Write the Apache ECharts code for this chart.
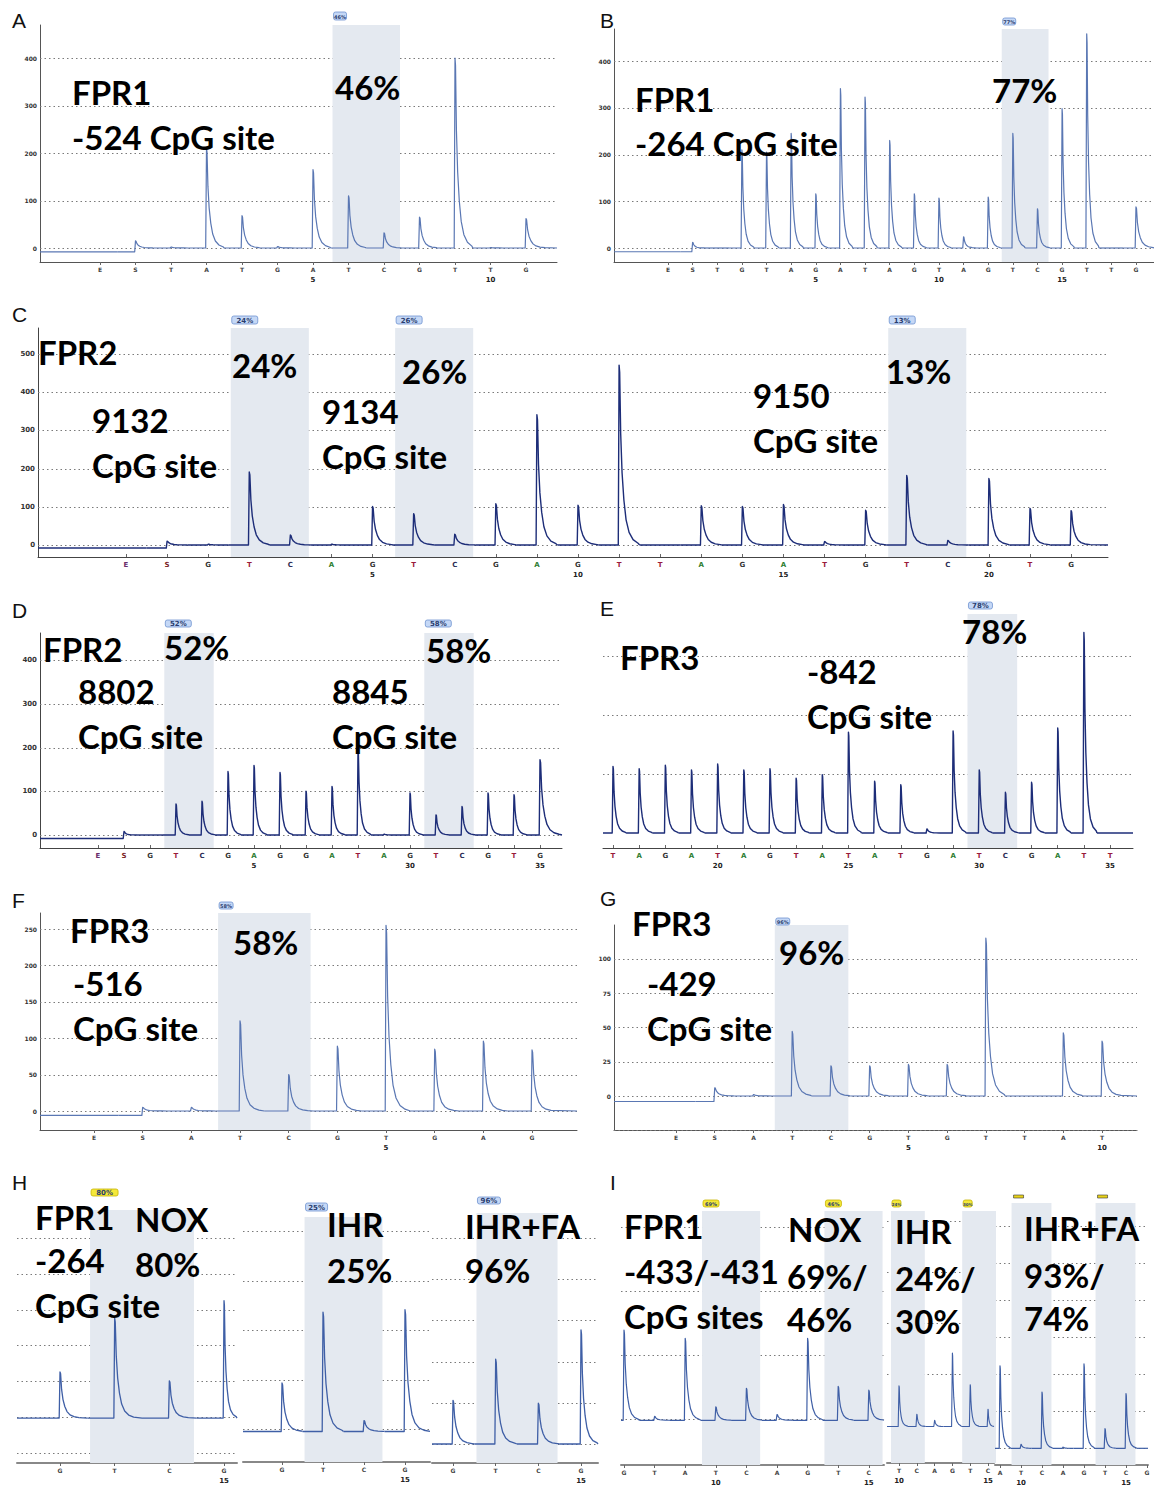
<!DOCTYPE html>
<html><head><meta charset="utf-8">
<script src="https://cdn.jsdelivr.net/npm/echarts@6/dist/echarts.min.js"></script>
<style>html,body{margin:0;padding:0;background:#fff}#c{width:1154px;height:1486px}</style>
</head><body><div id="c"></div>
<script>
// ---------------- DATA ----------------
// dispensation orders
const seqA  = ['E','S','T','A','T','G','A','T','C','G','T','T','G'];
const seqB  = ['E','S','T','G','T','A','G','A','T','A','G','T','A','G','T','C','G','T','T','G'];
const seqC  = ['E','S','G','T','C','A','G','T','C','G','A','G','T','T','A','G','A','T','G','T','C','G','T','G'];
const seqD  = ['E','S','G','T','C','G','A','G','G','A','T','A','G','T','C','G','T','G'];
const seqE  = ['T','A','G','A','T','A','G','T','A','T','A','T','G','A','T','C','G','A','T','T'];
const seqF  = ['E','S','A','T','C','G','T','G','A','G'];
const seqG  = ['E','S','A','T','C','G','T','G','T','T','A','T'];
const seqH1 = ['G','T','C','G'];
const seqH2 = ['G','T','C','G'];
const seqH3 = ['G','T','C','G'];
const seqI1 = ['G','T','A','T','C','A','G','T','C'];
const seqI2 = ['T','C','A','G','T','C'];
const seqI3 = ['A','T','C','A','G','T','C','G'];

// dispensation numbers shown under the letters
const numD = [null,null,1,2,3,4,5,6,26,27,28,29,30,31,32,33,34,35];

// peak heights (signal units); null = no peak
const peaksA  = [null, 15, 2, 210, 68, 3, 165, 110, 32, 65, 400, 1, 62];
const peaksB  = [null, 12, 0, 210, 205, 245, 116, 341, 323, 230, 116, 107, 24, 109, 245, 84, 298, 458, 0, 88];
const peaksC  = [null, 10, 2, 191, 26, 2, 101, 82, 28, 108, 341, 104, 471, 0, 103, 101, 106, 9, 91, 182, 12, 174, 96, 90];
const peaksD  = [null, 8, 0, 71, 77, 145, 159, 143, 100, 111, 195, 2, 96, 46, 65, 96, 92, 172];
const peaksE  = [113, 109, 115, 107, 117, 107, 109, 93, 99, 171, 88, 82, 7, 173, 107, 69, 86, 178, 340, 0];
const peaksF  = [null, 5, 5, 124, 50, 89, 255, 85, 96, 84];
const peaksG  = [null, 6, 1, 47, 22, 22, 23, 23, 115, 0, 46, 40];
const peaksH1 = [126, 276, 101, 325];
const peaksH2 = [93, 236, 17, 241];
const peaksH3 = [106, 206, 99, 277];
const peaksI1 = [139, 4, 126, 19, 48, 7, 126, 51, 45];
const peaksI2 = [77, 21, 9, 141, 79, 31];
const peaksI3 = [223, 11, 152, 3, 228, 53, 148, 0];

// trace level before the substrate injection
const preA = -8, preB = -8, preC = -8, preD = -8, preF = -6, preG = -4;

// shaded CpG dispensations (index ranges) and the software's % badges
const shadesA = [[7,8]],  pctA = ['46%'];
const shadesB = [[14,15]], pctB = ['77%'];
const shadesC = [[3,4],[7,8],[19,20]], pctC = ['24%','26%','13%'];
const shadesD = [[3,4],[13,14]], pctD = ['52%','58%'];
const shadesE = [[14,15]], pctE = ['78%'];
const shadesF = [[3,4]], pctF = ['58%'];
const shadesG = [[3,4]], pctG = ['96%'];
const shadesH1 = [[1,2]], pctH1 = ['80%'];
const shadesH2 = [[1,2]], pctH2 = ['25%'];
const shadesH3 = [[1,2]], pctH3 = ['96%'];
const shadesI1 = [[3,4],[7,8]], pctI1 = ['69%','46%'];
const shadesI2 = [[0,1],[4,5]], pctI2 = ['24%','30%'];
const shadesI3 = [[1,2],[5,6]], pctI3 = ['',''];

// y tick labels / grid values
const yTicksA = [0,100,200,300,400];
const yTicksC = [0,100,200,300,400,500];
const yTicksF = [0,50,100,150,200,250];
const yTicksG = [-25,0,25,50,75,100];
const gridE  = [100,200,300];
const gridH1 = [-100,0,100,200,300,400,500];
const gridH2 = [0,100,200,300,400];
const gridH3 = [0,100,200,300,400,500];
const gridI1 = [0,100,200,300];
const gridI2 = [100,200,300,400];
const gridI3 = [0,100,200,300,400,500,600];

function numsFrom(seq, start){ let n = start; return seq.map(l => (l==='E'||l==='S') ? null : n++); }

// ---------------- PANELS (layout in px) ----------------
const LIGHT = '#5a77b3', DARK = '#1d2d78', MID = '#3f5fa6';
const panels = [
 {seq:seqA, peaks:peaksA, nums:numsFrom(seqA,1), shades:shadesA, pcts:pctA, pre:preA, base:0,
  L:40,R:557,T:25,B:262,zy:248,ppu:0.475,p0:100,d:35.5, yl:yTicksA, gv:yTicksA, color:LIGHT, axisY:true, colored:false,
  badge:{w:13,h:8,gap:5,f:5,kind:'blue'}, axisColor:'#555', lw:1.2},
 {seq:seqB, peaks:peaksB, nums:numsFrom(seqB,1), shades:shadesB, pcts:pctB, pre:preB, base:0,
  L:614,R:1154,T:29,B:262,zy:248,ppu:0.4675,p0:668,d:24.63, yl:yTicksA, gv:yTicksA, color:LIGHT, axisY:true, colored:false,
  badge:{w:13,h:7,gap:4,f:5,kind:'blue'}, axisColor:'#555', lw:1.2},
 {seq:seqC, peaks:peaksC, nums:numsFrom(seqC,1), shades:shadesC, pcts:pctC, pre:preC, base:0,
  L:38,R:1108,T:328,B:557,zy:545,ppu:0.382,p0:126,d:41.09, yl:yTicksC, gv:yTicksC, color:DARK, axisY:true, colored:true,
  badge:{w:26,h:8,gap:4,f:7,kind:'blue'}, axisColor:'#444', lw:1.4},
 {seq:seqD, peaks:peaksD, nums:numD, shades:shadesD, pcts:pctD, pre:preD, base:0,
  L:40,R:562,T:633,B:848,zy:835,ppu:0.4375,p0:98,d:26, yl:yTicksA, gv:yTicksA, color:DARK, axisY:true, colored:true,
  badge:{w:26,h:7,gap:6,f:7,kind:'blue'}, axisColor:'#444', lw:1.4},
 {seq:seqE, peaks:peaksE, nums:numsFrom(seqE,16), shades:shadesE, pcts:pctE, pre:0, base:0,
  L:603,R:1133,T:614,B:848,zy:833,ppu:0.59,p0:613,d:26.16, yl:[], gv:gridE, color:DARK, axisY:false, colored:true,
  badge:{w:24,h:7,gap:5,f:7,kind:'blue'}, axisColor:'#444', lw:1.4},
 {seq:seqF, peaks:peaksF, nums:numsFrom(seqF,1), shades:shadesF, pcts:pctF, pre:preF, base:0,
  L:40,R:577,T:913,B:1130,zy:1111,ppu:0.728,p0:94,d:48.67, yl:yTicksF, gv:yTicksF, color:LIGHT, axisY:true, colored:false,
  badge:{w:14,h:7,gap:4,f:5,kind:'blue'}, axisColor:'#555', lw:1.2},
 {seq:seqG, peaks:peaksG, nums:numsFrom(seqG,1), shades:shadesG, pcts:pctG, pre:preG, base:0,
  L:614,R:1137,T:925,B:1130,zy:1096,ppu:1.373,p0:676,d:38.73, yl:yTicksG, gv:yTicksG, color:LIGHT, axisY:true, colored:false,
  badge:{w:14,h:7,gap:0,f:5,kind:'blue'}, axisColor:'#555', lw:1.2},
 {seq:seqH1, peaks:peaksH1, nums:numsFrom(seqH1,12), shades:shadesH1, pcts:pctH1, pre:0, base:-3,
  L:17,R:237,T:1210,B:1463,zy:1417,ppu:0.358,p0:60,d:54.67, yl:[], gv:gridH1, color:MID, axisY:false, colored:false,
  badge:{w:27,h:7,gap:14,f:7,kind:'yellow'}, axisColor:'#888', axisW:2, lw:1.3},
 {seq:seqH2, peaks:peaksH2, nums:numsFrom(seqH2,12), shades:shadesH2, pcts:pctH2, pre:0, base:-5,
  L:243,R:430,T:1217,B:1462,zy:1429,ppu:0.495,p0:282,d:41, yl:[], gv:gridH2, color:MID, axisY:false, colored:false,
  badge:{w:22,h:8,gap:6,f:7,kind:'blue'}, axisColor:'#888', axisW:2, lw:1.3},
 {seq:seqH3, peaks:peaksH3, nums:numsFrom(seqH3,12), shades:shadesH3, pcts:pctH3, pre:0, base:0,
  L:432,R:598,T:1213,B:1463,zy:1444,ppu:0.412,p0:453,d:42.67, yl:[], gv:gridH3, color:MID, axisY:false, colored:false,
  badge:{w:23,h:7,gap:9,f:7,kind:'blue'}, axisColor:'#888', axisW:2, lw:1.3},
 {seq:seqI1, peaks:peaksI1, nums:numsFrom(seqI1,7), shades:shadesI1, pcts:pctI1, pre:0, base:-2,
  L:621,R:884,T:1211,B:1465,zy:1419,ppu:0.64,p0:624,d:30.6, yl:[], gv:gridI1, color:MID, axisY:false, colored:false,
  badge:{w:16,h:7,gap:4,f:5,kind:'yellow'}, axisColor:'#888', axisW:2, lw:1.2},
 {seq:seqI2, peaks:peaksI2, nums:numsFrom(seqI2,10), shades:shadesI2, pcts:pctI2, pre:0, base:-3,
  L:887,R:994,T:1211,B:1463,zy:1425,ppu:0.51,p0:899,d:17.8, yl:[], gv:gridI2, color:MID, axisY:false, colored:false,
  badge:{w:9,h:7,gap:4,f:4,kind:'yellow'}, axisColor:'#888', axisW:2, lw:1.1},
 {seq:seqI3, peaks:peaksI3, nums:numsFrom(seqI3,9), shades:shadesI3, pcts:pctI3, pre:0, base:0,
  L:995,R:1148,T:1203,B:1470,zy:1453,ppu:0.377,p0:1000,d:21, yl:[], gv:gridI3, color:MID, axisY:false, colored:false,
  badge:{w:10,h:3,gap:5,f:4,kind:'line'}, axisColor:'#888', axisW:2, lw:1.2}
];

// annotation texts [text, left x, centre y]
const bigTexts = [
 ['FPR1',72,92],['-524 CpG site',72,137],['46%',335,87],
 ['FPR1',635,99],['-264 CpG site',635,143],['77%',992,90],
 ['FPR2',38,352],['9132',92,420],['CpG site',92,465],['24%',232,365],['9134',322,411],['CpG site',322,456],['26%',402,371],['9150',753,395],['CpG site',753,440],['13%',886,371],
 ['FPR2',43,649],['52%',164,647],['8802',78,691],['CpG site',78,736],['8845',332,691],['CpG site',332,736],['58%',426,650],
 ['FPR3',620,657],['-842',807,671],['CpG site',807,716],['78%',962,631],
 ['FPR3',70,930],['-516',73,983],['CpG site',73,1028],['58%',233,942],
 ['FPR3',632,923],['-429',647,983],['CpG site',647,1028],['96%',779,952],
 ['FPR1',35,1217],['NOX',135,1219],['-264',35,1260],['80%',135,1264],['CpG site',35,1305],
 ['IHR',327,1224],['25%',327,1270],['IHR+FA',465,1226],['96%',465,1270],
 ['FPR1',624,1226],['NOX',788,1229],['IHR',895,1231],['IHR+FA',1024,1228],
 ['-433/-431',624,1271],['69%/',787,1276],['24%/',895,1278],['93%/',1024,1275],
 ['CpG sites',624,1316],['46%',787,1319],['30%',895,1321],['74%',1024,1318]
];
const panelLetters = [['A',12,20],['B',600,20],['C',12,314],['D',12,610],['E',600,608],['F',12,900],['G',600,898],['H',12,1182],['I',610,1182]];

// ---------------- BUILD ----------------
const letterColors = {T:'#9a1b3b', A:'#2e7d32', G:'#333333', C:'#2b2b55', E:'#6a2c6a', S:'#7a1f1f'};
const grids = [], xAxes = [], yAxes = [], series = [];

panels.forEach((p, k) => {
  const xmin = (p.L - p.p0) / p.d, xmax = (p.R - p.p0) / p.d;
  const ymin = -(p.B - p.zy) / p.ppu, ymax = (p.zy - p.T) / p.ppu;
  grids.push({left:p.L, top:p.T, width:p.R - p.L, height:p.B - p.T, containLabel:false});
  const idx = p.seq.map((_, i) => i);
  const rich = {n:{fontSize:7, fontWeight:'bold', color:'#222', fontFamily:'DejaVu Sans', lineHeight:11}};
  Object.keys(letterColors).forEach(l => {
    rich['l' + l] = {fontSize: p.colored ? 7 : 6, fontWeight:'bold', fontFamily:'DejaVu Sans',
      color: p.colored ? letterColors[l] : '#444', lineHeight:9};
  });
  xAxes.push({gridIndex:k, type:'value', min:xmin, max:xmax,
    axisLine:{show:true, onZero:false, lineStyle:{color:p.axisColor, width:p.axisW || 1}},
    axisTick:{show:true, customValues:idx, length:3, inside:!!p.colored, lineStyle:{color:'#666'}},
    axisLabel:{show:true, customValues:idx, margin:3, rich:rich,
      formatter:(v) => { const i = Math.round(v); const l = p.seq[i]; if (!l) return '';
        let s = '{l' + l + '|' + l + '}'; const n = p.nums[i];
        if (n != null && n % 5 === 0) s += '\n{n|' + n + '}'; return s; }},
    splitLine:{show:false}});
  yAxes.push({gridIndex:k, type:'value', min:ymin, max:ymax,
    axisLine:{show:p.axisY, onZero:false, lineStyle:{color:p.axisColor, width:1}},
    axisTick:{show:false},
    axisLabel:{show:p.axisY, customValues:p.yl, margin:3, fontSize:p.colored ? 7 : 6, fontWeight:'bold', color:'#333', fontFamily:'DejaVu Sans'},
    splitLine:{show:false}});

  // dotted grid lines at the tick values
  series.push({type:'custom', xAxisIndex:k, yAxisIndex:k, silent:true, z:1, clip:false,
    data:p.gv.map(v => [xmin, v]), encode:{x:0, y:1},
    renderItem:(params, api) => { const cs = params.coordSys; const y = Math.round(api.coord([xmin, api.value(1)])[1]) + 0.5;
      return {type:'line', shape:{x1:cs.x, y1:y, x2:cs.x + cs.width, y2:y},
        style:{stroke:'#7a7a7a', lineWidth:1, lineDash:[1.5, 3]}}; }});

  // shaded CpG dispensations + badges
  series.push({type:'custom', xAxisIndex:k, yAxisIndex:k, silent:true, z:2, clip:false,
    data:p.shades.map(s => [s[0] - 0.45, s[1] + 0.45]), encode:{x:[0, 1]},
    renderItem:(params, api) => {
      const cs = params.coordSys; const b = p.badge;
      const x0 = api.coord([api.value(0), 0])[0], x1 = api.coord([api.value(1), 0])[0];
      const ch = [{type:'rect', shape:{x:x0, y:cs.y, width:x1 - x0, height:cs.height}, style:{fill:'#e4e9f0'}}];
      const by = cs.y - b.gap - b.h;
      if (b.kind === 'line') {
        ch.push({type:'rect', shape:{x:x0 + 2, y:by, width:b.w, height:b.h}, style:{fill:'#e8d21a', stroke:'#333', lineWidth:0.6}});
      } else {
        const yellow = b.kind === 'yellow';
        ch.push({type:'rect', shape:{x:x0 + 1, y:by, width:b.w, height:b.h, r:2},
          style:{fill: yellow ? '#f4e83a' : '#c5d8f6', stroke: yellow ? '#c8b400' : '#6f93d0', lineWidth:0.8}});
        ch.push({type:'text', style:{x:x0 + 1 + b.w / 2, y:by + b.h / 2 + 0.5, text:p.pcts[params.dataIndex],
          align:'center', verticalAlign:'middle', font:'bold ' + b.f + 'px "DejaVu Sans"', fill:'#2a3d6e'}});
      }
      return {type:'group', children:ch};
    }});

  // pyrogram trace
  const sIdx = p.seq.indexOf('S');
  series.push({type:'custom', xAxisIndex:k, yAxisIndex:k, silent:true, z:3, clip:false,
    data:p.peaks.map((h, i) => [i, h == null ? p.pre : h]), encode:{x:0, y:1},
    renderItem:(params, api) => {
      const i = params.dataIndex, h = p.peaks[i];
      const beforeS = sIdx >= 0 && i < sIdx, atS = sIdx >= 0 && i === sIdx;
      const levL = (beforeS || atS) ? p.pre : p.base;
      const levR = beforeS ? p.pre : p.base;
      const xl = i === 0 ? xmin : i - 0.5, xr = i === p.seq.length - 1 ? xmax : i + 0.5;
      const a = api.coord([xl, levL]), m = api.coord([i, levL]), e = api.coord([xr, levR]);
      const pts = [a];
      if (h != null && h > levL + 0.5) {
        const top = api.coord([i, h])[1], by = api.coord([i, levR])[1];
        const half = e[0] - m[0];
        const s = Math.min(1, half / 20);
        pts.push([m[0] - 0.8, m[1]]);
        pts.push([m[0], top]);
        const dx = [0.6, 1.6, 3, 4.8, 7, 10, 14, 19];
        const fr = [0.96, 0.62, 0.4, 0.25, 0.14, 0.07, 0.03, 0.01];
        for (let q = 0; q < dx.length; q++) pts.push([m[0] + dx[q] * s, by + (top - by) * fr[q]]);
      } else { pts.push(m); }
      pts.push(e);
      return {type:'polyline', shape:{points:pts}, style:{stroke:p.color, lineWidth:p.lw, fill:'none', lineJoin:'round'}};
    }});
});

const graphics = [];
bigTexts.forEach(t => graphics.push({type:'text', x:t[1], y:t[2], z:100,
  style:{text:t[0], font:'bold 33px Lato', lineHeight:26, fill:'#000', verticalAlign:'middle', align:'left'}}));
panelLetters.forEach(t => graphics.push({type:'text', x:t[1], y:t[2], z:100,
  style:{text:t[0], font:'21px "Liberation Sans"', fill:'#111', verticalAlign:'middle', align:'left'}}));

const chart = echarts.init(document.getElementById('c'), null, {renderer:'svg', width:1154, height:1486});
chart.setOption({animation:false, backgroundColor:'#fff', grid:grids, xAxis:xAxes, yAxis:yAxes, series:series, graphic:graphics});
</script></body></html>
